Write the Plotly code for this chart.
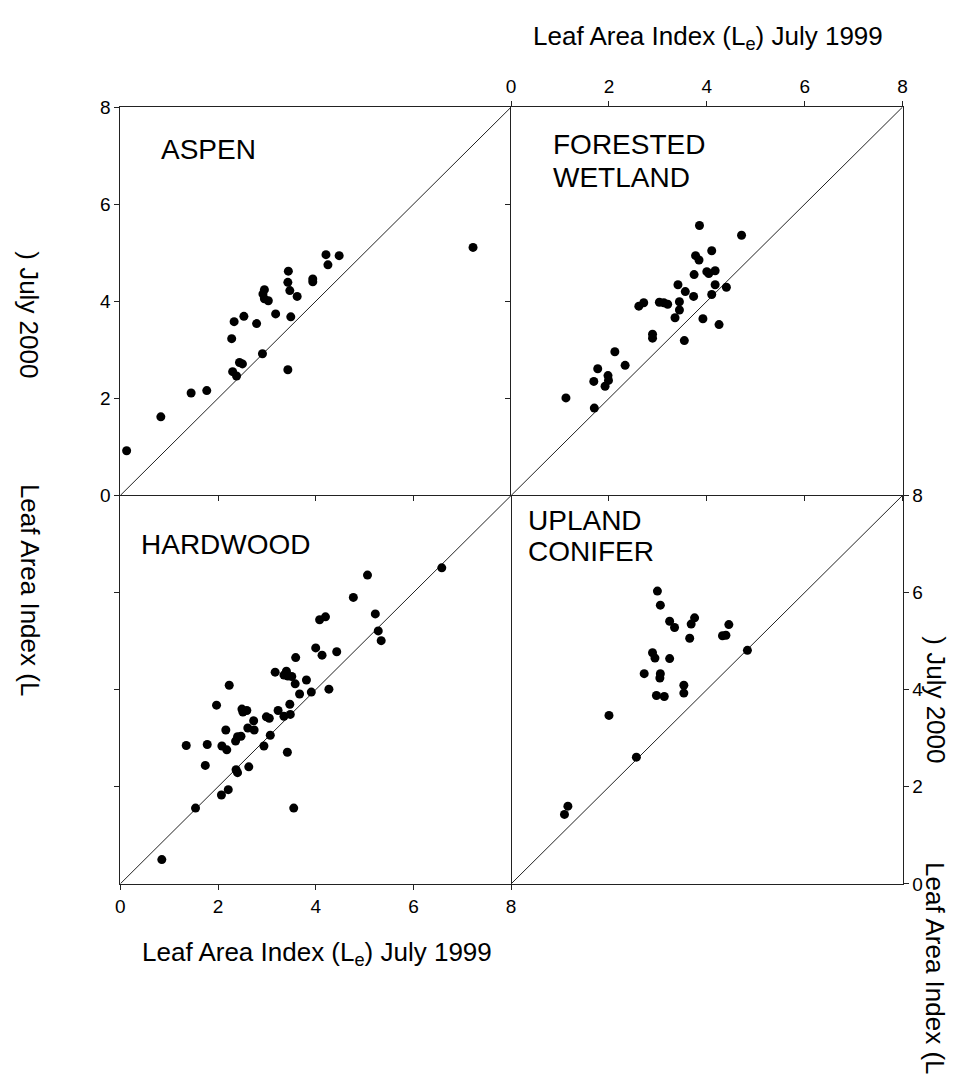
import plotly.graph_objects as go

# ---------------- data (Le July 1999 vs Le July 2000) ----------------
aspen_x = [0.13, 0.83, 1.45, 1.77, 2.28, 2.33, 2.53, 2.30, 2.38, 2.44, 2.50, 2.79, 2.91,
           2.95, 2.92, 2.95, 3.03, 3.18, 3.44, 3.43, 3.47, 3.62, 3.49, 3.43, 3.94, 3.94,
           4.21, 4.25, 4.48, 7.22]
aspen_y = [0.92, 1.62, 2.11, 2.16, 3.23, 3.58, 3.69, 2.55, 2.46, 2.74, 2.71, 3.54, 2.92,
           4.24, 4.15, 4.05, 4.01, 3.74, 4.62, 4.39, 4.22, 4.10, 3.68, 2.59, 4.46, 4.40,
           4.96, 4.75, 4.94, 5.11]

wetland_x = [1.12, 1.70, 1.69, 1.77, 1.92, 1.98, 1.99, 2.12, 2.33, 2.61, 2.71, 2.89, 2.89,
             3.03, 3.12, 3.20, 3.35, 3.44, 3.44, 3.41, 3.54, 3.56, 3.73, 3.74, 3.77, 3.84,
             3.85, 3.92, 4.00, 4.04, 4.10, 4.10, 4.17, 4.17, 4.25, 4.40, 4.71]
wetland_y = [2.01, 1.80, 2.35, 2.61, 2.25, 2.47, 2.37, 2.96, 2.68, 3.90, 3.97, 3.32, 3.24,
             3.98, 3.97, 3.94, 3.66, 3.82, 3.99, 4.34, 3.19, 4.20, 4.10, 4.55, 4.94, 4.85,
             5.56, 3.64, 4.61, 4.57, 5.04, 4.14, 4.63, 4.34, 3.52, 4.29, 5.36]

hardwood_x = [0.85, 1.54, 1.35, 1.74, 1.78, 2.07, 2.21, 1.97, 2.23, 2.08, 2.18, 2.16, 2.36,
              2.40, 2.47, 2.37, 2.40, 2.49, 2.51, 2.59, 2.61, 2.63, 2.73, 2.74, 2.94, 2.99,
              3.05, 3.07, 3.17, 3.23, 3.35, 3.35, 3.40, 3.43, 3.51, 3.47, 3.48, 3.42, 3.55,
              3.59, 3.58, 3.67, 3.81, 3.91, 4.00, 4.08, 4.20, 4.13, 4.27, 4.43, 5.06, 4.77,
              5.22, 5.28, 5.34, 6.58]
hardwood_y = [0.50, 1.56, 2.85, 2.44, 2.87, 1.83, 1.94, 3.68, 4.09, 2.84, 2.76, 3.17, 2.94,
              3.03, 3.04, 2.35, 2.29, 3.60, 3.54, 3.57, 3.21, 2.41, 3.36, 3.17, 2.84, 3.44,
              3.41, 3.06, 4.36, 3.57, 3.45, 4.30, 4.38, 4.28, 4.27, 3.70, 3.49, 2.71, 1.56,
              4.66, 4.12, 3.91, 4.20, 3.95, 4.86, 5.44, 5.50, 4.71, 4.01, 4.78, 6.36, 5.90,
              5.56, 5.21, 5.01, 6.51]

conifer_x = [1.09, 1.16, 2.56, 2.00, 2.72, 2.89, 2.94, 2.99, 3.05, 2.97, 3.13, 3.05, 3.04,
             3.24, 3.24, 3.34, 3.53, 3.53, 3.65, 3.68, 3.75, 4.32, 4.39, 4.45, 4.83]
conifer_y = [1.43, 1.60, 2.61, 3.47, 4.33, 4.76, 4.65, 6.03, 5.74, 3.88, 3.86, 4.33, 4.24,
             4.64, 5.41, 5.28, 4.09, 3.93, 5.06, 5.35, 5.48, 5.11, 5.12, 5.34, 4.81]

panel_names = [["ASPEN"], ["FORESTED", "WETLAND"], ["HARDWOOD"], ["UPLAND", "CONIFER"]]
tick_vals = [0, 2, 4, 6, 8]
tick_text = ["0", "2", "4", "6", "8"]
inner_ticks = [2, 4, 6]
one_to_one = [0, 8]
axis_range = [0, 8]

x_title = "Leaf Area Index (L<sub>e</sub>) July 1999"
y_title_a = "Leaf Area Index (L"
y_title_b = ") July 2000"

# ---------------- layout helpers ----------------
W, H = 955, 1091
FONT = "Liberation Sans, Arial, sans-serif"
LINE = "#222222"


def px(x):
    return x / W


def py(y):
    return 1 - y / H


left_dom = [px(116.5), px(511.5)]
right_dom = [px(511.5), px(907)]
top_dom = [py(495), py(99)]
bot_dom = [py(891), py(495)]

fig = go.Figure()

series = [(aspen_x, aspen_y), (wetland_x, wetland_y),
          (hardwood_x, hardwood_y), (conifer_x, conifer_y)]
for i, (sx, sy) in enumerate(series):
    suf = "" if i == 0 else str(i + 1)
    fig.add_trace(go.Scatter(x=one_to_one, y=one_to_one, mode="lines",
                             line=dict(color=LINE, width=1),
                             xaxis="x" + suf, yaxis="y" + suf, showlegend=False,
                             hoverinfo="skip", cliponaxis=False))
    fig.add_trace(go.Scatter(x=sx, y=sy, mode="markers",
                             marker=dict(color="black", size=9),
                             xaxis="x" + suf, yaxis="y" + suf, showlegend=False,
                             cliponaxis=False))

base = dict(range=axis_range, showgrid=False, zeroline=False, showline=True,
            linecolor=LINE, linewidth=1, ticks="outside", ticklen=5, tickwidth=1,
            tickcolor=LINE, fixedrange=True,
            tickfont=dict(family=FONT, size=19, color="black"))

fig.update_layout(
    # ASPEN (top-left): left line, bottom line, top line
    xaxis=dict(base, domain=left_dom, anchor="y", side="bottom",
               tickvals=inner_ticks, showticklabels=False, mirror=True),
    yaxis=dict(base, domain=top_dom, anchor="x", side="left",
               tickvals=tick_vals, ticktext=tick_text, mirror=False),
    # FORESTED WETLAND (top-right): top axis, left/right lines, bottom line
    xaxis2=dict(base, domain=right_dom, anchor="y2", side="top",
                tickvals=tick_vals, ticktext=tick_text, mirror="ticks"),
    yaxis2=dict(base, domain=top_dom, anchor="x2", side="left",
                tickvals=inner_ticks, showticklabels=False, mirror=True),
    # HARDWOOD (bottom-left): left/right lines, bottom axis
    xaxis3=dict(base, domain=left_dom, anchor="y3", side="bottom",
                tickvals=tick_vals, ticktext=tick_text, mirror=False),
    yaxis3=dict(base, domain=bot_dom, anchor="x3", side="left",
                tickvals=inner_ticks, showticklabels=False, mirror=True),
    # UPLAND CONIFER (bottom-right): bottom line, right axis
    xaxis4=dict(base, domain=right_dom, anchor="y4", side="bottom",
                tickvals=inner_ticks, showticklabels=False, ticks="", mirror=False),
    yaxis4=dict(base, domain=bot_dom, anchor="x4", side="right",
                tickvals=tick_vals, ticktext=tick_text, mirror=False),
)

annotations = []
# panel names: (axis suffix, left x in data, list of y centres)
label_pos = [("", 0.80, [7.13]), ("2", 0.82, [7.23, 6.55]),
             ("3", 0.39, [7.0]), ("4", 0.30, [7.49, 6.85])]
for names, (suf, lx, ys) in zip(panel_names, label_pos):
    for name, yy in zip(names, ys):
        annotations.append(dict(text=name, x=lx, y=yy, xref="x" + suf, yref="y" + suf,
                                xanchor="left", yanchor="middle", showarrow=False,
                                font=dict(family=FONT, size=28, color="black")))

title_font = dict(family=FONT, size=26, color="black")
annotations.append(dict(text=x_title, x=px(710), y=py(28), xref="paper", yref="paper",
                        xanchor="center", yanchor="middle", showarrow=False,
                        font=title_font))
annotations.append(dict(text=x_title, x=px(315), y=py(962), xref="paper", yref="paper",
                        xanchor="center", yanchor="middle", showarrow=False,
                        font=title_font))
# garbled rotated y titles
for (tx, cx, cy) in [(y_title_b, 24, 311), (y_title_a, 26, 591),
                     (y_title_b, 940, 703), (y_title_a, 940, 977)]:
    annotations.append(dict(text=tx, x=px(cx), y=py(cy), xref="paper", yref="paper",
                            xanchor="center", yanchor="middle", showarrow=False,
                            textangle=90, font=title_font))

fig.update_layout(annotations=annotations, width=W, height=H,
                  margin=dict(l=0, r=0, t=0, b=0, pad=0),
                  paper_bgcolor="white", plot_bgcolor="white", showlegend=False)

fig.write_html("out.html",
               config={"displayModeBar": False, "staticPlot": True},
               post_script="document.body.style.margin='0';"
                           "document.body.style.overflow='hidden';")
